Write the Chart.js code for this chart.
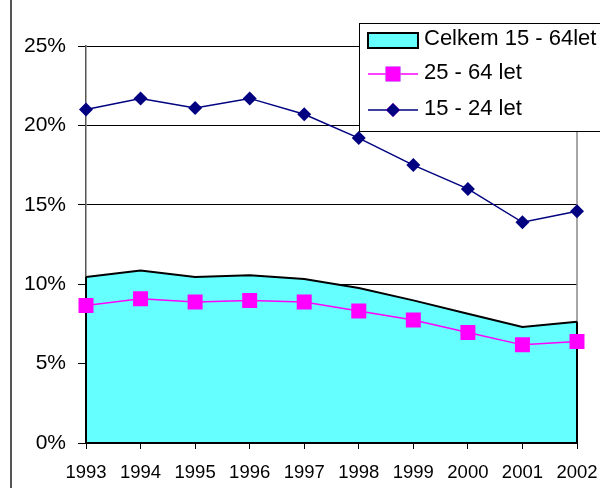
<!DOCTYPE html>
<html><head><meta charset="utf-8">
<script src="https://cdn.jsdelivr.net/npm/chart.js@4"></script>
<style>html,body{margin:0;padding:0;background:#fff;}#wrap{width:600px;height:488px;position:relative;}</style>
</head><body><div id="wrap"><canvas id="c" width="600" height="488"></canvas></div>
<script>
const years = ['1993','1994','1995','1996','1997','1998','1999','2000','2001','2002'];
const celkem = [10.45,10.87,10.45,10.56,10.33,9.76,8.98,8.14,7.30,7.63];
const age25_64 = [8.66,9.08,8.88,8.98,8.88,8.31,7.74,6.96,6.18,6.39];
const age15_24 = [21.0,21.7,21.1,21.7,20.7,19.2,17.5,16.0,13.9,14.6];
const yTicks = [0,5,10,15,20,25];
const seriesNames = ['Celkem 15 - 64let','25 - 64 let','15 - 24 let'];

const FONT = '"Liberation Sans", Arial, sans-serif';

const framePlugin = {
  id: 'frame',
  beforeDraw(chart) {
    const ctx = chart.ctx;
    ctx.save();
    ctx.fillStyle = '#fff';
    ctx.fillRect(0, 0, chart.width, chart.height);
    ctx.strokeStyle = '#555';
    ctx.lineWidth = 2;
    ctx.beginPath(); ctx.moveTo(11, 0); ctx.lineTo(11, chart.height); ctx.stroke();
    ctx.restore();
  },
  beforeDatasetsDraw(chart) {
    const ctx = chart.ctx, a = chart.chartArea;
    ctx.save();
    ctx.strokeStyle = '#888';
    ctx.lineWidth = 1.5;
    ctx.beginPath(); ctx.moveTo(a.right, a.top); ctx.lineTo(a.right, a.bottom); ctx.stroke();
    ctx.restore();
  },
  afterDatasetDraw(chart, args) {
    if (args.index !== 0) return;
    const ctx = chart.ctx;
    const pts = args.meta.data;
    const base = chart.scales.y.getPixelForValue(0);
    const first = pts[0], last = pts[pts.length - 1];
    ctx.save();
    ctx.strokeStyle = '#000';
    ctx.lineWidth = 2;
    ctx.beginPath();
    ctx.moveTo(first.x, first.y);
    ctx.lineTo(first.x, base);
    ctx.lineTo(last.x, base);
    ctx.lineTo(last.x, last.y);
    ctx.stroke();
    ctx.restore();
  },
  afterDraw(chart) {
    const ctx = chart.ctx;
    ctx.save();
    const bx = 359, by = 23, bw = 260, bh = 108;
    ctx.fillStyle = '#fff';
    ctx.fillRect(bx, by, bw, bh);
    ctx.strokeStyle = '#000';
    ctx.lineWidth = 1;
    ctx.strokeRect(bx + 0.5, by + 0.5, bw, bh);
    const rows = [40, 74, 110];
    const ds = chart.data.datasets;
    ctx.fillStyle = ds[0].backgroundColor;
    ctx.fillRect(368, 33, 50, 15);
    ctx.lineWidth = 2;
    ctx.strokeStyle = '#000';
    ctx.strokeRect(368, 33, 50, 15);
    for (let i = 1; i < 3; i++) {
      const y = rows[i];
      ctx.strokeStyle = ds[i].borderColor;
      ctx.lineWidth = ds[i].borderWidth;
      ctx.beginPath(); ctx.moveTo(368, y); ctx.lineTo(418, y); ctx.stroke();
      Chart.helpers.drawPoint(ctx, {
        pointStyle: ds[i].pointStyle, radius: ds[i].pointRadius, rotation: 0, borderWidth: 0
      }, 393, y);
      ctx.fillStyle = ds[i].pointBackgroundColor;
      ctx.fill();
    }
    ctx.fillStyle = '#000';
    ctx.font = '22px ' + FONT;
    ctx.textBaseline = 'middle';
    ctx.textAlign = 'left';
    for (let i = 0; i < 3; i++) ctx.fillText(seriesNames[i], 424, rows[i] - 1);
    ctx.restore();
  }
};

new Chart(document.getElementById('c'), {
  type: 'line',
  data: {
    labels: years,
    datasets: [
      { label: seriesNames[0], data: celkem, fill: 'origin', backgroundColor: '#66FFFF',
        borderColor: '#000', borderWidth: 2, pointRadius: 0, tension: 0, order: 3 },
      { label: seriesNames[1], data: age25_64, fill: false, borderColor: '#FF00FF', borderWidth: 1.5,
        pointStyle: 'rect', pointRadius: 10.6, pointBackgroundColor: '#FF00FF', pointBorderColor: '#FF00FF',
        pointBorderWidth: 0, tension: 0, order: 2 },
      { label: seriesNames[2], data: age15_24, fill: false, borderColor: '#000080', borderWidth: 1.5,
        pointStyle: 'rectRot', pointRadius: 7, pointBackgroundColor: '#000080', pointBorderColor: '#000080',
        pointBorderWidth: 0, tension: 0, order: 1 }
    ]
  },
  options: {
    responsive: false,
    animation: false,
    devicePixelRatio: 1,
    layout: { padding: { top: 46, right: 23, bottom: 0, left: 0 } },
    plugins: { legend: { display: false }, tooltip: { enabled: false } },
    scales: {
      x: {
        type: 'category',
        offset: false,
        afterFit(s) { s.height = 45; s.paddingRight = 0; s.paddingLeft = 0; },
        grid: { drawOnChartArea: false, drawTicks: true, tickLength: 6, color: '#000', offset: false },
        border: { color: '#000', width: 2 },
        ticks: { color: '#000', font: { family: FONT, size: 18.5 }, padding: 13, maxRotation: 0, autoSkip: false }
      },
      y: {
        min: 0, max: 25,
        afterFit(s) { s.width = 86; },
        afterBuildTicks(s) { s.ticks = yTicks.map(v => ({ value: v })); },
        grid: { color: '#000', lineWidth: 1, drawTicks: true, tickLength: 8 },
        border: { color: '#555', width: 1.5 },
        ticks: { color: '#000', font: { family: FONT, size: 21 }, padding: 12, callback: v => v + '%' }
      }
    }
  },
  plugins: [framePlugin]
});
</script></body></html>
